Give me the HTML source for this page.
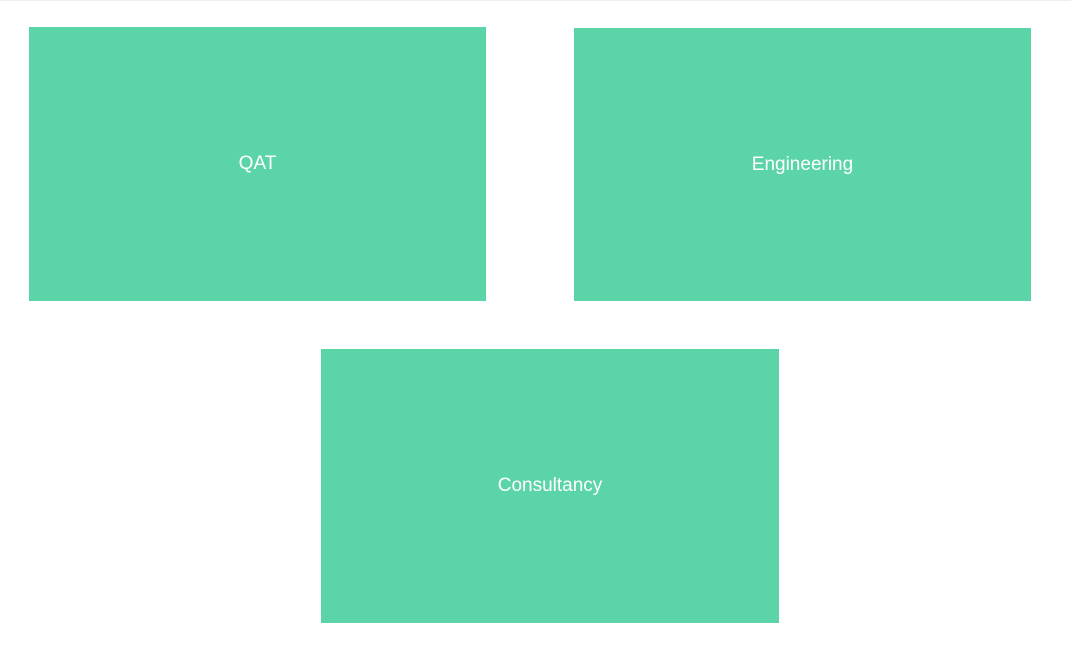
<!DOCTYPE html>
<html><head><meta charset="utf-8"><style>
html,body{margin:0;padding:0;background:#fff;width:1071px;height:656px;overflow:hidden;position:relative;font-family:"Liberation Sans",sans-serif}
.top{position:absolute;left:0;top:0;width:1071px;height:1px;background:#eeeeee}
.b{position:absolute;background:#5BD5A8;color:#fff;font-size:19px;display:flex;align-items:center;justify-content:center}
</style></head><body>
<div class="top"></div>
<div class="b" style="left:29px;top:27px;width:457px;height:274px">QAT</div>
<div class="b" style="left:574px;top:28px;width:457px;height:273px">Engineering</div>
<div class="b" style="left:321px;top:349px;width:458px;height:274px">Consultancy</div>
</body></html>
